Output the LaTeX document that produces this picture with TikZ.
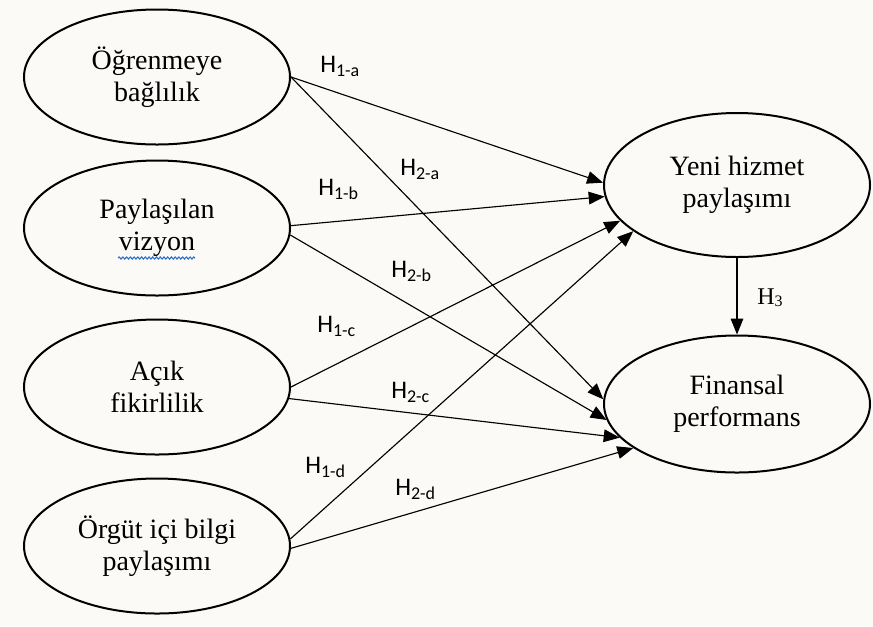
\documentclass[tikz,border=0pt]{standalone}
\usepackage{fontspec}
\setmainfont{Liberation Serif}
\newfontfamily\serfont{Liberation Serif}
\newfontfamily\labfont{Carlito}
\usetikzlibrary{shapes.geometric,arrows.meta,decorations.pathmorphing,calc}
\definecolor{bg}{RGB}{252,250,247}
\definecolor{squig}{RGB}{40,110,200}
\newcommand\hlab[1]{H\raisebox{-3.5pt}{\fontsize{13.5}{14}\selectfont #1}}
\tikzset{
 var/.style={ellipse, draw, line width=1.5pt, inner sep=0pt, minimum width=199.5pt, minimum height=101.25pt, align=center, font=\serfont\fontsize{21}{24}\selectfont},
 conn/.style={line width=0.85pt, -{Triangle[length=12pt,width=9.5pt]}},
 lab/.style={anchor=base west, inner sep=0pt, font=\labfont\fontsize{19}{20}\selectfont},
}
\begin{document}
\begin{tikzpicture}[x=0.75pt,y=-0.75pt]
\fill[bg] (0,0) rectangle (873,626);
\useasboundingbox (0,0) rectangle (873,626);
\node[var] (e1) at (157,77) {Öğrenmeye\\bağlılık};
\node[var] (e2) at (157,228) {Paylaşılan\\vizyon};
\node[var] (e3) at (157,387) {Açık\\fikirlilik};
\node[var] (e4) at (157,546) {Örgüt içi bilgi\\paylaşımı};
\node[var, minimum height=108pt] (y) at (737,185) {Yeni hizmet\\paylaşımı};
\node[var, minimum height=102.75pt] (f) at (737,404) {Finansal\\performans};
\draw[squig, line width=0.8pt, decorate, decoration={snake, amplitude=0.8pt, segment length=2.8pt}] ($(e2.center)+(-39,30)$) -- ($(e2.center)+(38,30)$);
\draw[conn] (e1.east) -- (y.179);
\draw[conn] (e1.east) -- (f.178);
\draw[conn] (e2.1) -- (y.185);
\draw[conn] (e2.-3) -- (f.187);
\draw[conn] (e3.0) -- (y.197);
\draw[conn] (e3.-5) -- (f.196);
\draw[conn] (e4.3) -- (y.204);
\draw[conn] (e4.-1) -- (f.203);
\draw[conn] (y.south) -- (f.north);
\node[lab] (h1a) at (320,72) {\hlab{1-a}};
\node[lab] (h2a) at (400,175) {\hlab{2-a}};
\node[lab] (h1b) at (318,195) {\hlab{1-b}};
\node[lab] (h2b) at (391,277) {\hlab{2-b}};
\node[lab] (h1c) at (317,332) {\hlab{1-c}};
\node[lab] (h2c) at (391,398) {\hlab{2-c}};
\node[lab] (h1d) at (305,473) {\hlab{1-d}};
\node[lab] (h2d) at (395,495) {\hlab{2-d}};
\node[anchor=base west, inner sep=0pt, font=\serfont\fontsize{18}{20}\selectfont] (h3) at (757,304) {H\raisebox{-1.5pt}{\fontsize{12}{13}\selectfont 3}};
\end{tikzpicture}
\end{document}
